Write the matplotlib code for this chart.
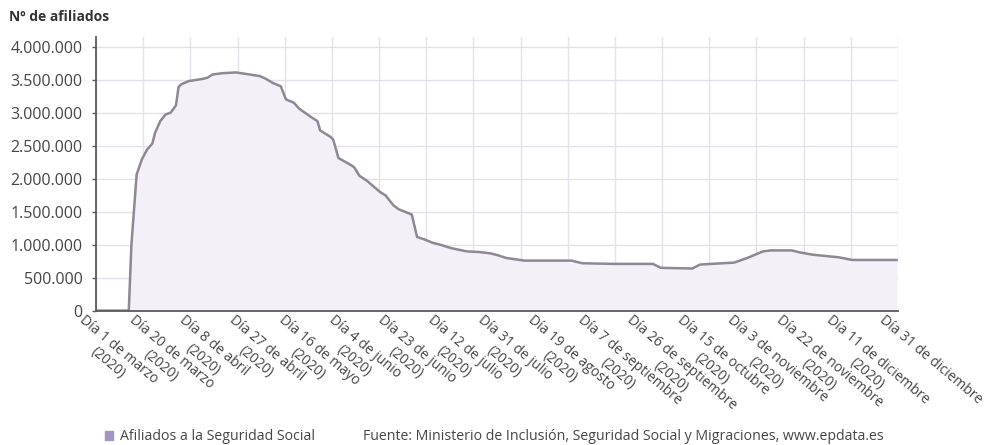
import matplotlib
matplotlib.use("Agg")
import matplotlib.pyplot as plt
import matplotlib.patches as mpatches
import matplotlib.transforms as mtransforms
import numpy as np
import pandas as pd

plt.rcParams['font.family'] = ['Open Sans', 'DejaVu Sans']

inicio = "2020-03-01"

fechas = [
    "2020-03-01", "2020-03-13", "2020-03-14", "2020-03-16", "2020-03-18", "2020-03-20",
    "2020-03-22", "2020-03-23", "2020-03-25", "2020-03-27", "2020-03-29", "2020-03-31",
    "2020-04-01", "2020-04-02", "2020-04-05", "2020-04-10", "2020-04-12", "2020-04-14",
    "2020-04-18", "2020-04-23", "2020-04-28", "2020-05-02", "2020-05-04", "2020-05-07",
    "2020-05-10", "2020-05-12", "2020-05-15", "2020-05-17", "2020-05-22", "2020-05-24",
    "2020-05-25", "2020-05-29", "2020-05-30", "2020-06-01", "2020-06-05", "2020-06-07",
    "2020-06-09", "2020-06-12", "2020-06-14", "2020-06-17", "2020-06-19", "2020-06-22",
    "2020-06-24", "2020-06-29", "2020-07-01", "2020-07-04", "2020-07-07", "2020-07-10",
    "2020-07-14", "2020-07-20", "2020-07-25", "2020-07-29", "2020-08-01", "2020-08-04",
    "2020-08-11", "2020-08-29", "2020-09-02", "2020-09-14", "2020-09-29", "2020-10-02",
    "2020-10-14", "2020-10-17", "2020-10-30", "2020-11-04", "2020-11-10", "2020-11-13",
    "2020-11-21", "2020-11-24", "2020-11-29", "2020-12-09", "2020-12-14", "2020-12-31",
]

afiliados = [
    0, 0, 1000000, 2070000, 2300000, 2450000,
    2540000, 2700000, 2880000, 2980000, 3010000, 3120000,
    3400000, 3440000, 3490000, 3520000, 3540000, 3590000,
    3610000, 3620000, 3590000, 3565000, 3530000, 3460000,
    3410000, 3210000, 3160000, 3070000, 2930000, 2880000,
    2740000, 2640000, 2600000, 2320000, 2230000, 2180000,
    2050000, 1970000, 1900000, 1800000, 1750000, 1600000,
    1540000, 1460000, 1120000, 1080000, 1030000, 1000000,
    950000, 900000, 890000, 870000, 840000, 800000,
    760000, 760000, 720000, 710000, 710000, 650000,
    640000, 700000, 730000, 800000, 900000, 915000,
    915000, 885000, 850000, 810000, 770000, 770000,
]

fechas_etiquetas = [
    "2020-03-01", "2020-03-20", "2020-04-08", "2020-04-27", "2020-05-16", "2020-06-04",
    "2020-06-23", "2020-07-12", "2020-07-31", "2020-08-19", "2020-09-07", "2020-09-26",
    "2020-10-15", "2020-11-03", "2020-11-22", "2020-12-11", "2020-12-31",
]

etiquetas = [
    "Día 1 de marzo\n(2020)", "Día 20 de marzo\n(2020)", "Día 8 de abril\n(2020)",
    "Día 27 de abril\n(2020)", "Día 16 de mayo\n(2020)", "Día 4 de junio\n(2020)",
    "Día 23 de junio\n(2020)", "Día 12 de julio\n(2020)", "Día 31 de julio\n(2020)",
    "Día 19 de agosto\n(2020)", "Día 7 de septiembre\n(2020)", "Día 26 de septiembre\n(2020)",
    "Día 15 de octubre\n(2020)", "Día 3 de noviembre\n(2020)", "Día 22 de noviembre\n(2020)",
    "Día 11 de diciembre\n(2020)", "Día 31 de diciembre",
]

y_ticks = [0, 500000, 1000000, 1500000, 2000000, 2500000, 3000000, 3500000, 4000000]

# dias desde el 1 de marzo
t0 = pd.Timestamp(inicio)
x = [(pd.Timestamp(f) - t0).days for f in fechas]
x_etiquetas = [(pd.Timestamp(f) - t0).days for f in fechas_etiquetas]
n_dias = (pd.Timestamp("2020-12-31") - t0).days + 1

linea = "#8e8794"
relleno = "#f3f0f7"
rejilla = "#e5e1ec"
texto = "#454545"

fig = plt.figure(figsize=(9.9, 4.45), dpi=100)
ax = fig.add_axes([0.097, 0.302, 0.810, 0.615])

ax.fill_between(x, afiliados, 0, color=relleno, linewidth=0)
ax.plot(x, afiliados, color=linea, linewidth=1.8)

ax.set_xlim(-0.5, n_dias - 0.5)
ax.set_ylim(0, 4160000)

ax.set_yticks(y_ticks)
ax.set_yticklabels([f"{v:,.0f}".replace(",", ".") for v in y_ticks])
ax.set_xticks(np.arange(-0.5, n_dias, 18), minor=True)
ax.set_xticks(x_etiquetas)
ax.set_xticklabels(etiquetas)

ax.grid(True, axis='y', color=rejilla, linewidth=1)
ax.grid(True, axis='x', which='minor', color=rejilla, linewidth=1)
ax.set_axisbelow(True)

for s in ['top', 'right']:
    ax.spines[s].set_visible(False)
for s in ['left', 'bottom']:
    ax.spines[s].set_color("#5a5a5a")
    ax.spines[s].set_linewidth(1.3)

ax.tick_params(axis='y', length=3, width=1, color="#5a5a5a", labelsize=11.5,
               labelcolor=texto, pad=6.5)
ax.tick_params(axis='x', which='both', length=0, labelsize=10, labelcolor=texto, pad=1)

offset = mtransforms.ScaledTranslation(-11 / 100, -1 / 100, fig.dpi_scale_trans)
for lab in ax.get_xticklabels():
    lab.set_rotation(-40)
    lab.set_ha('left')
    lab.set_va('top')
    lab.set_rotation_mode('anchor')
    lab.set_multialignment('center')
    lab.set_transform(lab.get_transform() + offset)

fig.text(9 / 990, 1 - 17 / 445, "Nº de afiliados", fontsize=10, fontweight='bold',
         color="#333333", va='center', ha='left')

fig.legend(handles=[mpatches.Patch(color="#a396c2", label="Afiliados a la Seguridad Social")],
           loc='center left', bbox_to_anchor=(92 / 990, 1 - 437 / 445), frameon=False,
           handlelength=0.6, handleheight=0.6, handletextpad=0.5, fontsize=10.2,
           labelcolor=texto)

fig.text(363 / 990, 1 - 437 / 445,
         "Fuente: Ministerio de Inclusión, Seguridad Social y Migraciones, www.epdata.es",
         fontsize=10.2, color=texto, va='center', ha='left')

fig.savefig("out.png", dpi=100)
